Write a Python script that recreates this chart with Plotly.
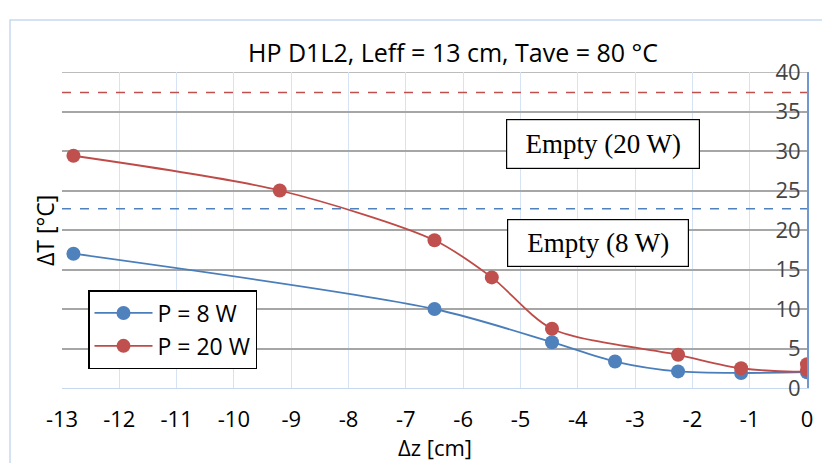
import plotly.graph_objects as go

# ---- data ----
x_8w = [-12.8, -6.5, -4.45, -3.35, -2.25, -1.15, 0.0]
y_8w = [17.0, 10.0, 5.8, 3.35, 2.1, 1.9, 2.0]

x_20w = [-12.8, -9.2, -6.5, -5.5, -4.45, -2.25, -1.15, 0.0, 0.0]
y_20w = [29.4, 25.0, 18.7, 14.0, 7.5, 4.2, 2.5, 2.3, 3.0]

empty_8w = 22.7
empty_20w = 37.4

x_ticks = list(range(-13, 1))
y_ticks = list(range(0, 41, 5))

title_text = "HP D1L2, Leff = 13 cm, Tave = 80 °C"

BLUE = "#4a7ebb"
BLUE_M = "#4f81bd"
RED = "#be4b48"
RED_M = "#c0504d"
FONT = "Open Sans"
FS = 22

# page offset (body margin) and target plot area in window pixels
OFF = 8
W, H = 830, 463
PX0, PX1, PY0, PY1 = 62, 807, 72, 388
L, T = PX0 - OFF, PY0 - OFF
R = W - L - (PX1 - PX0)
B = H - T - (PY1 - PY0)
pw, ph = PX1 - PX0, PY1 - PY0

def px(xp):
    return (xp - PX0) / pw

def py(yp):
    return (PY1 - yp) / ph

fig = go.Figure()

fig.add_trace(go.Scatter(
    x=x_8w, y=y_8w, mode="lines+markers", name="P = 8 W",
    line=dict(color=BLUE, width=1.8, shape="spline", smoothing=0.8),
    marker=dict(color=BLUE_M, size=14),
))
fig.add_trace(go.Scatter(
    x=x_20w, y=y_20w, mode="lines+markers", name="P = 20 W",
    line=dict(color=RED, width=1.8, shape="spline", smoothing=0.8),
    marker=dict(color=RED_M, size=14),
))

# top gridline
fig.add_shape(type="line", xref="x", yref="y", x0=-13, x1=0, y0=40, y1=40,
              line=dict(color="#a6a6a6", width=1.5), layer="below")

# dashed reference lines
fig.add_shape(type="line", xref="x", yref="y", x0=-13, x1=0, y0=empty_20w, y1=empty_20w,
              line=dict(color=RED_M, width=1.5, dash="dash"))
fig.add_shape(type="line", xref="x", yref="y", x0=-13, x1=0, y0=empty_8w, y1=empty_8w,
              line=dict(color=BLUE_M, width=1.5, dash="dash"))

# outer chart border
fig.add_shape(type="rect", xref="paper", yref="paper",
              x0=px(10), x1=px(850), y0=py(20), y1=py(480),
              line=dict(color="#c6d9f1", width=1.5), layer="below")

ann_common = dict(xref="paper", yref="paper", showarrow=False,
                  xanchor="center", yanchor="middle")

# text boxes
fig.add_annotation(x=px(603), y=py(144), text="Empty (20 W)",
                   font=dict(family="Liberation Serif", size=27, color="black"),
                   bgcolor="white", bordercolor="black", borderwidth=1.2,
                   width=190, height=46, **ann_common)
fig.add_annotation(x=px(598), y=py(243), text="Empty (8 W)",
                   font=dict(family="Liberation Serif", size=27, color="black"),
                   bgcolor="white", bordercolor="black", borderwidth=1.2,
                   width=178, height=44, **ann_common)

# title
fig.add_annotation(x=px(453), y=py(52), text=title_text,
                   font=dict(family=FONT, size=25, color="black"), **ann_common)

# axis titles
fig.add_annotation(x=px(45), y=py(231), text="ΔT [°C]", textangle=-90,
                   font=dict(family=FONT, size=23, color="black"), **ann_common)
fig.add_annotation(x=px(435), y=py(447), text="Δz [cm]",
                   font=dict(family=FONT, size=FS, color="black"), **ann_common)

fig.update_layout(
    width=W, height=H,
    margin=dict(l=L, r=R, t=T, b=B, autoexpand=False),
    paper_bgcolor="white", plot_bgcolor="white",
    font=dict(family=FONT, size=FS, color="black"),
    showlegend=True,
    legend=dict(x=px(88), y=py(290), xanchor="left", yanchor="top",
                bgcolor="white", bordercolor="black", borderwidth=1.5,
                font=dict(family=FONT, size=23), itemwidth=58,
                tracegroupgap=0),
    xaxis=dict(range=[-13, 0], tickvals=x_ticks, ticktext=[str(v) for v in x_ticks],
               showgrid=True, gridcolor="#d6e3f5", gridwidth=1.2,
               showline=True, linecolor="#c6d9f1", linewidth=1.2,
               zeroline=False, ticks="", ticklabelstandoff=11,
               automargin=False, mirror=False),
    yaxis=dict(range=[0, 40], tickvals=y_ticks, side="right",
               ticklabelposition="inside", ticklabeloverflow="allow",
               ticklabelstandoff=8,
               showgrid=True, gridcolor="#a6a6a6", gridwidth=1.5,
               showline=True, linecolor="#6f98d0", linewidth=1.5,
               zeroline=False, ticks="", automargin=False),
)

fig.write_html("out.html")
